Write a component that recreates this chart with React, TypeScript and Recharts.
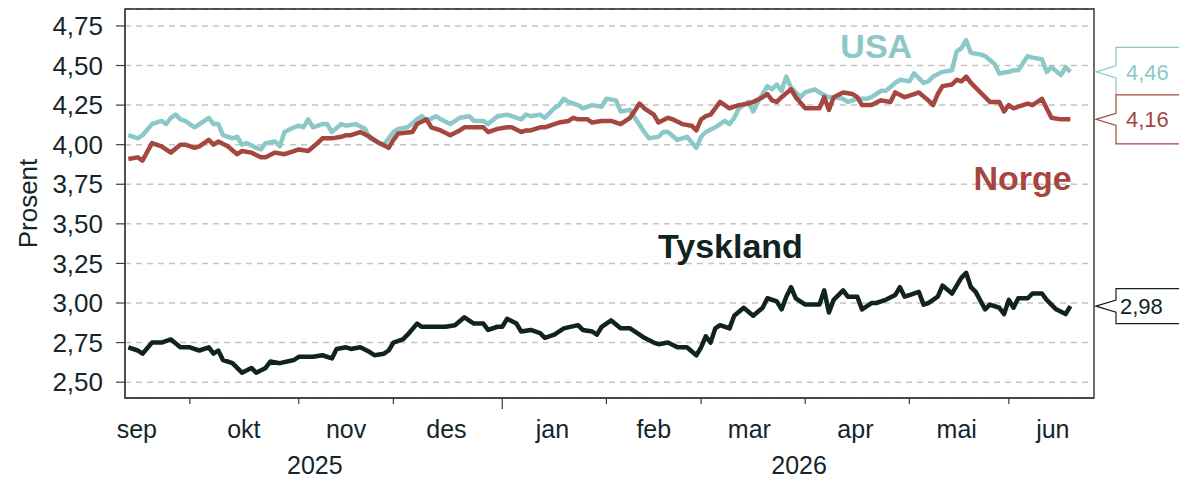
import {
  LineChart,
  Line,
  XAxis,
  YAxis,
  CartesianGrid,
  ReferenceArea,
  ReferenceDot,
} from "recharts";

// x is a business-day index counted from 1 Sep 2025
const usaDays = [9, 11, 12, 14, 16, 17, 18, 19, 20, 21, 23, 26, 27, 28, 29, 31, 32, 33, 34, 36, 37, 38, 40, 41, 42, 44, 45, 46, 47, 48, 50, 51, 52, 54, 55, 57, 59, 60, 62, 63, 65, 66, 68, 70, 71, 72, 74, 75, 77, 79, 81, 82, 84, 85, 87, 89, 90, 92, 93, 94, 96, 97, 99, 100, 101, 102, 104, 105, 107, 109, 110, 112, 113, 115, 116, 118, 119, 121, 122, 123, 125, 127, 129, 130, 131, 133, 135, 136, 137, 138, 140, 141, 142, 144, 145, 146, 147, 148, 149, 151, 152, 154, 155, 157, 158, 160, 161, 163, 165, 166, 168, 169, 171, 172, 174, 175, 177, 178, 179, 181, 183, 184, 185, 186, 187, 189, 190, 192, 193, 195, 196, 197, 199, 200, 202, 203, 204, 206, 207, 208];
const usaRates = [4.06, 4.04, 4.06, 4.13, 4.15, 4.13, 4.17, 4.19, 4.16, 4.15, 4.11, 4.17, 4.13, 4.13, 4.06, 4.04, 4.05, 4.0, 4.01, 3.98, 3.97, 4.01, 4.02, 3.99, 4.08, 4.11, 4.12, 4.11, 4.16, 4.11, 4.13, 4.13, 4.08, 4.13, 4.12, 4.13, 4.1, 4.04, 4.01, 4.0, 4.08, 4.1, 4.11, 4.16, 4.18, 4.15, 4.18, 4.16, 4.13, 4.17, 4.18, 4.15, 4.15, 4.13, 4.18, 4.19, 4.18, 4.16, 4.19, 4.18, 4.19, 4.17, 4.23, 4.25, 4.29, 4.27, 4.25, 4.23, 4.25, 4.24, 4.29, 4.28, 4.21, 4.22, 4.17, 4.08, 4.04, 4.05, 4.08, 4.08, 4.03, 4.05, 3.98, 4.05, 4.08, 4.11, 4.15, 4.13, 4.17, 4.23, 4.27, 4.21, 4.27, 4.37, 4.35, 4.38, 4.34, 4.43, 4.36, 4.3, 4.33, 4.35, 4.33, 4.3, 4.3, 4.29, 4.27, 4.29, 4.29, 4.3, 4.34, 4.34, 4.39, 4.41, 4.4, 4.45, 4.39, 4.4, 4.43, 4.46, 4.47, 4.59, 4.61, 4.66, 4.58, 4.57, 4.56, 4.51, 4.45, 4.46, 4.47, 4.47, 4.56, 4.55, 4.54, 4.46, 4.49, 4.44, 4.49, 4.46];

const norgeDays = [9, 11, 12, 14, 16, 18, 20, 21, 23, 24, 26, 27, 28, 30, 32, 33, 35, 37, 38, 40, 42, 44, 45, 47, 49, 50, 52, 54, 55, 56, 58, 60, 62, 64, 65, 66, 69, 70, 72, 73, 75, 77, 79, 80, 84, 85, 87, 89, 90, 92, 93, 94, 96, 97, 99, 100, 102, 103, 104, 106, 107, 109, 110, 111, 113, 115, 117, 118, 120, 121, 123, 124, 126, 128, 129, 130, 131, 132, 134, 136, 137, 138, 140, 141, 143, 144, 145, 146, 147, 149, 150, 152, 153, 155, 156, 157, 158, 160, 162, 163, 164, 166, 168, 170, 171, 173, 175, 176, 178, 179, 180, 181, 183, 184, 185, 186, 187, 189, 190, 191, 193, 194, 195, 196, 198, 199, 200, 202, 203, 204, 206, 207, 208];
const norgeRates = [3.91, 3.92, 3.9, 4.01, 3.99, 3.95, 4.0, 4.0, 3.98, 3.99, 4.03, 4.0, 4.02, 3.99, 3.94, 3.96, 3.95, 3.92, 3.92, 3.95, 3.94, 3.96, 3.97, 3.96, 4.01, 4.04, 4.04, 4.05, 4.06, 4.06, 4.08, 4.05, 4.01, 3.98, 4.03, 4.07, 4.08, 4.13, 4.16, 4.11, 4.09, 4.06, 4.09, 4.11, 4.11, 4.08, 4.1, 4.11, 4.11, 4.08, 4.09, 4.09, 4.11, 4.11, 4.13, 4.14, 4.15, 4.17, 4.16, 4.16, 4.14, 4.15, 4.15, 4.15, 4.13, 4.17, 4.26, 4.23, 4.19, 4.14, 4.17, 4.16, 4.13, 4.12, 4.09, 4.16, 4.18, 4.19, 4.27, 4.23, 4.24, 4.25, 4.26, 4.27, 4.3, 4.32, 4.28, 4.27, 4.3, 4.35, 4.3, 4.23, 4.23, 4.23, 4.3, 4.22, 4.3, 4.33, 4.32, 4.3, 4.25, 4.25, 4.28, 4.27, 4.33, 4.3, 4.32, 4.33, 4.28, 4.25, 4.32, 4.37, 4.38, 4.41, 4.4, 4.43, 4.39, 4.33, 4.3, 4.27, 4.27, 4.21, 4.25, 4.23, 4.25, 4.26, 4.25, 4.29, 4.23, 4.17, 4.16, 4.16, 4.16];

const tysklandDays = [9, 11, 12, 14, 16, 18, 20, 22, 24, 26, 27, 28, 29, 31, 33, 35, 36, 38, 39, 41, 44, 45, 47, 48, 50, 52, 53, 55, 56, 58, 60, 61, 63, 64, 65, 67, 68, 70, 71, 73, 74, 76, 78, 80, 82, 84, 85, 87, 88, 89, 91, 92, 94, 96, 97, 99, 101, 104, 105, 107, 108, 109, 111, 113, 115, 117, 118, 120, 121, 123, 125, 127, 129, 130, 131, 132, 133, 134, 136, 137, 139, 141, 143, 144, 146, 147, 148, 149, 150, 152, 154, 155, 156, 157, 158, 160, 161, 163, 164, 166, 167, 169, 171, 172, 173, 174, 176, 177, 178, 180, 181, 183, 185, 186, 187, 188, 190, 191, 193, 194, 195, 196, 197, 199, 200, 202, 203, 205, 207, 208];
const tysklandRates = [2.72, 2.7, 2.68, 2.75, 2.75, 2.77, 2.72, 2.72, 2.7, 2.72, 2.68, 2.7, 2.64, 2.62, 2.56, 2.59, 2.56, 2.59, 2.63, 2.62, 2.64, 2.66, 2.66, 2.66, 2.67, 2.65, 2.71, 2.72, 2.71, 2.72, 2.69, 2.67, 2.68, 2.7, 2.75, 2.77, 2.8, 2.87, 2.85, 2.85, 2.85, 2.85, 2.86, 2.91, 2.87, 2.87, 2.83, 2.85, 2.85, 2.9, 2.87, 2.82, 2.83, 2.81, 2.78, 2.8, 2.84, 2.86, 2.83, 2.82, 2.8, 2.85, 2.89, 2.84, 2.84, 2.8, 2.78, 2.75, 2.74, 2.75, 2.72, 2.72, 2.67, 2.72, 2.79, 2.75, 2.84, 2.86, 2.84, 2.92, 2.97, 2.92, 2.97, 3.03, 3.01, 2.96, 3.04, 3.1, 3.03, 2.99, 2.99, 2.99, 3.08, 2.94, 3.02, 3.08, 3.04, 3.04, 2.96, 3.0, 3.0, 3.02, 3.05, 3.1, 3.04, 3.05, 3.07, 2.99, 3.0, 3.04, 3.11, 3.06, 3.16, 3.19, 3.1, 3.07, 2.96, 2.99, 2.97, 2.93, 3.02, 2.97, 3.03, 3.03, 3.06, 3.06, 3.02, 2.96, 2.93, 2.98];

const yTicks = [2.5, 2.75, 3.0, 3.25, 3.5, 3.75, 4.0, 4.25, 4.5, 4.75];
const monthStarts = [22, 45, 65, 88, 110, 130, 152, 174, 195];
const yearStart = 88;
const monthLabels = ["sep", "okt", "nov", "des", "jan", "feb", "mar", "apr", "mai", "jun"];
const monthPos = [10.8, 33.4, 55, 76.2, 98.6, 120, 140.2, 162.6, 184, 204.3];
const yearLabels = ["2025", "2026"];
const yearPos = [48.4, 150.7];

const WIDTH = 1179;
const HEIGHT = 478;
const MARGIN = { top: 9, right: 85, bottom: 0, left: 0 };
const PLOT_RIGHT = WIDTH - MARGIN.right;
const X_DOMAIN: [number, number] = [8.3, 213];
const Y_DOMAIN: [number, number] = [2.4, 4.857];

const INK = "#15262a";
const AXIS = "#3c3c3c";
const GRID = "#c4c4c4";

const series = [
  { name: "USA", days: usaDays, rates: usaRates, color: "#8cc8c7", labelAt: [167, 4.55], half: 24.5, pad: 10 },
  { name: "Norge", days: norgeDays, rates: norgeRates, color: "#a5463f", labelAt: [197.9, 3.715], half: 24.5, pad: 10 },
  { name: "Tyskland", days: tysklandDays, rates: tysklandRates, color: "#10231f", labelAt: [136.2, 3.285], half: 17.5, pad: 4 },
];

const fmt = (v: number) => v.toFixed(2).replace(".", ",");

function XTick(props: any) {
  const { x, y, payload } = props;
  const v = payload.value;
  if (monthStarts.includes(v)) {
    const len = v === yearStart ? 11 : 6;
    return <line x1={x} x2={x} y1={y} y2={y + len} stroke={AXIS} strokeWidth={1.2} />;
  }
  const mi = monthPos.indexOf(v);
  if (mi >= 0) {
    return (
      <text x={x} y={y + 40} textAnchor="middle" fontSize={25} fill={INK}>
        {monthLabels[mi]}
      </text>
    );
  }
  const yi = yearPos.indexOf(v);
  if (yi >= 0) {
    return (
      <text x={x} y={y + 76} textAnchor="middle" fontSize={25} fill={INK}>
        {yearLabels[yi]}
      </text>
    );
  }
  return null;
}

// value box at the right edge, pointing at the last observation
function callout(text: string, color: string, half: number, pad: number) {
  return (props: any) => {
    const vb = props.viewBox;
    const y = vb.y + vb.height / 2;
    const tip = PLOT_RIGHT + 2;
    const left = PLOT_RIGHT + 22;
    const right = WIDTH + 4;
    const d = `M${tip},${y} L${left},${y - 6} L${left},${y - half} L${right},${y - half} L${right},${y + half} L${left},${y + half} L${left},${y + 6} Z`;
    return (
      <g>
        <path d={d} fill="#fff" stroke={color} strokeWidth={1.2} />
        <text x={left + pad} y={y + 8} fontSize={22} fill={color}>
          {text}
        </text>
      </g>
    );
  };
}

function seriesName(text: string, color: string) {
  return (props: any) => {
    const vb = props.viewBox;
    return (
      <text x={vb.x} y={vb.y} textAnchor="middle" fontSize={34} fontWeight="bold" fill={color}>
        {text}
      </text>
    );
  };
}

export default function App() {
  const xTicks = [...monthStarts, ...monthPos, ...yearPos].sort((a, b) => a - b);

  return (
    <div style={{ width: WIDTH, height: HEIGHT, fontFamily: '"Liberation Sans", Arial, sans-serif' }}>
      <style>{"body{margin:0}"}</style>
      <LineChart width={WIDTH} height={HEIGHT} margin={MARGIN}>
        <CartesianGrid
          vertical={false}
          stroke={GRID}
          strokeWidth={1.5}
          strokeDasharray="6 5"
        />
        <XAxis
          type="number"
          dataKey="d"
          domain={X_DOMAIN}
          allowDataOverflow
          ticks={xTicks}
          interval={0}
          tick={<XTick />}
          tickLine={false}
          tickSize={0}
          tickMargin={0}
          height={80}
          axisLine={{ stroke: AXIS, strokeWidth: 1.2 }}
        />
        <YAxis
          type="number"
          domain={Y_DOMAIN}
          allowDataOverflow
          ticks={yTicks}
          interval={0}
          tickFormatter={fmt}
          width={125}
          tickSize={9}
          tickMargin={13}
          tick={{ fontSize: 26, fill: INK }}
          tickLine={{ stroke: AXIS, strokeWidth: 1.2 }}
          axisLine={{ stroke: AXIS, strokeWidth: 1.2 }}
          label={{
            content: (p: any) => {
              const vb = p.viewBox;
              const cx = vb.x + 37;
              const cy = vb.y + vb.height / 2;
              return (
                <text x={cx} y={cy} textAnchor="middle" fontSize={26} fill={INK} transform={`rotate(-90 ${cx} ${cy})`}>
                  Prosent
                </text>
              );
            },
          }}
        />
        <ReferenceArea
          x1={X_DOMAIN[0]}
          x2={X_DOMAIN[1]}
          y1={Y_DOMAIN[0]}
          y2={Y_DOMAIN[1]}
          fill="none"
          stroke="#222"
          strokeWidth={1.3}
          ifOverflow="visible"
        />
        {series.map((s) => (
          <Line
            key={s.name}
            data={s.days.map((d, i) => ({ d, v: s.rates[i] }))}
            dataKey="v"
            type="linear"
            stroke={s.color}
            strokeWidth={4.5}
            strokeLinejoin="round"
            dot={false}
            activeDot={false}
            isAnimationActive={false}
          />
        ))}
        {series.map((s) => (
          <ReferenceDot
            key={s.name + "-name"}
            x={s.labelAt[0]}
            y={s.labelAt[1]}
            r={0}
            stroke="none"
            fill="none"
            ifOverflow="visible"
            label={{ content: seriesName(s.name, s.color) }}
          />
        ))}
        {series.map((s) => {
          const last = s.rates[s.rates.length - 1];
          return (
            <ReferenceDot
              key={s.name + "-last"}
              x={s.days[s.days.length - 1]}
              y={last}
              r={0}
              stroke="none"
              fill="none"
              ifOverflow="visible"
              label={{ content: callout(fmt(last), s.color, s.half, s.pad) }}
            />
          );
        })}
      </LineChart>
    </div>
  );
}
